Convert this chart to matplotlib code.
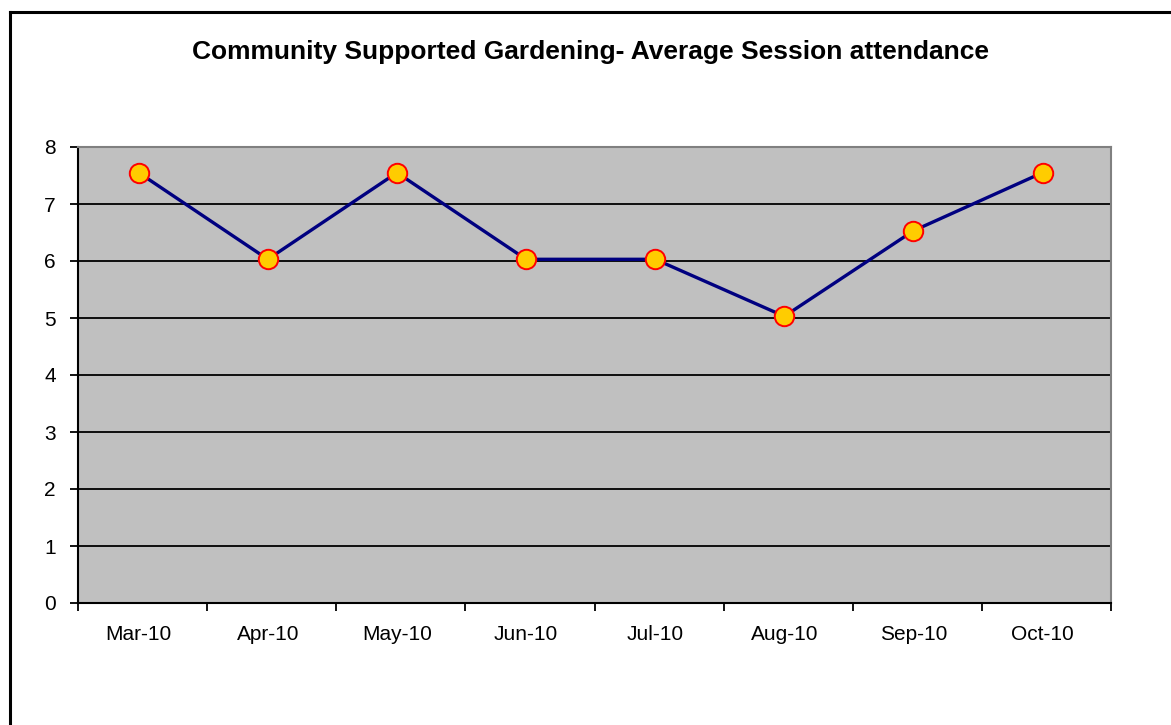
import matplotlib
matplotlib.use("Agg")
from matplotlib import pyplot as plt
from matplotlib.lines import Line2D
import numpy as np

plt.rcParams['font.family'] = ['Liberation Sans', 'DejaVu Sans']

# data
months = ["Mar-10", "Apr-10", "May-10", "Jun-10", "Jul-10", "Aug-10", "Sep-10", "Oct-10"]
attendance = [7.55, 6.03, 7.55, 6.03, 6.03, 5.03, 6.53, 7.55]
title = "Community Supported Gardening- Average Session attendance"

W, H = 1171, 725
fig = plt.figure(figsize=(W / 100, H / 100), dpi=100)

# plot area in pixel coordinates (left, top, right, bottom)
l, t, r, b = 78, 147, 1111, 603
ax = fig.add_axes([l / W, 1 - b / H, (r - l) / W, (b - t) / H])
ax.set_facecolor("#C0C0C0")

x = np.arange(len(months))
ax.plot(x, attendance, color="#000080", lw=2.4, zorder=3,
        marker="o", markersize=14, markerfacecolor="#FFCC00",
        markeredgecolor="#FF0000", markeredgewidth=1.4)

ax.set_xlim(-0.47, len(months) - 0.53)
ax.set_ylim(0, 8)
ax.set_yticks(range(0, 9))
ax.yaxis.grid(True, color="black", lw=1.3)
ax.set_axisbelow(True)

# category labels centred, ticks between categories (Excel style)
ax.set_xticks(x)
ax.set_xticklabels(months)
ax.set_xticks(np.arange(-0.47, len(months)), minor=True)
ax.tick_params(axis="x", which="major", length=0, pad=16, labelsize=15)
ax.tick_params(axis="x", which="minor", length=6, width=1.3, direction="out")
ax.tick_params(axis="y", length=6, width=1.3, direction="out", pad=10, labelsize=15)

for side in ("top", "right"):
    ax.spines[side].set_color("#808080")
    ax.spines[side].set_linewidth(1.5)
for side in ("left", "bottom"):
    ax.spines[side].set_color("black")
    ax.spines[side].set_linewidth(1.5)

fig.text(590 / W, 1 - 52 / H, title, ha="center", va="center",
         fontsize=19, fontweight="bold")

# chart frame (only left and top edges visible in the image)
fig.add_artist(Line2D([10 / W, 10 / W], [0, 1 - 12 / H], color="black", lw=2.2,
                      transform=fig.transFigure))
fig.add_artist(Line2D([10 / W, 1], [1 - 12 / H, 1 - 12 / H], color="black", lw=2.2,
                      transform=fig.transFigure))

fig.savefig("out.png", dpi=100)
